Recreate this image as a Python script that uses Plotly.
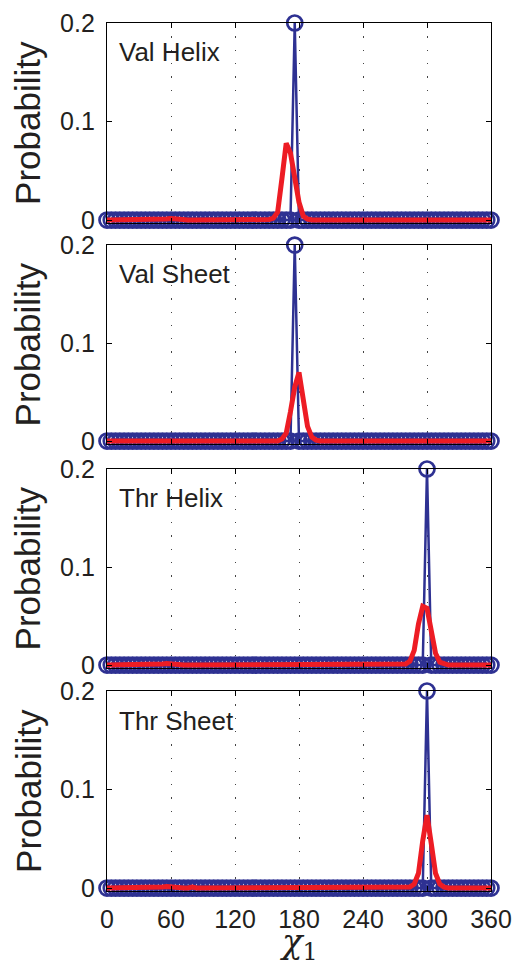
import plotly.graph_objects as go

# ---------------- data ----------------
chi_bins = list(range(0, 361, 4))          # chi_1 bin centres (deg)
x_ticks = [0, 60, 120, 180, 240, 300, 360]
y_ticks = [0, 0.1, 0.2]
y_tick_labels = ["0", "0.1", "0.2"]
panel_names = ["Val Helix", "Val Sheet", "Thr Helix", "Thr Sheet"]

# non-zero bins of each distribution; every other bin is 0
blue_val_helix = {176: 0.2}
blue_val_sheet = {176: 0.2}
blue_thr_helix = {300: 0.2}
blue_thr_sheet = {300: 0.2}

red_val_helix = {56: 0.001, 60: 0.0015, 64: 0.001, 152: 0.0005, 156: 0.002, 160: 0.008,
                 164: 0.042, 168: 0.078, 172: 0.068, 176: 0.045, 180: 0.018,
                 184: 0.004, 188: 0.001}
red_val_sheet = {164: 0.002, 168: 0.008, 172: 0.030, 176: 0.055, 180: 0.070,
                 184: 0.045, 188: 0.015, 192: 0.004, 196: 0.001}
red_thr_helix = {52: 0.001, 56: 0.0015, 60: 0.001, 280: 0.001, 284: 0.004, 288: 0.015,
                 292: 0.042, 296: 0.060, 300: 0.058, 304: 0.035, 308: 0.012,
                 312: 0.003, 316: 0.001}
red_thr_sheet = {52: 0.001, 56: 0.0015, 60: 0.001, 80: 0.001, 184: 0.001,
                 284: 0.001, 288: 0.004, 292: 0.015, 296: 0.048, 300: 0.074,
                 304: 0.045, 308: 0.015, 312: 0.004, 316: 0.001}

blue_series = [blue_val_helix, blue_val_sheet, blue_thr_helix, blue_thr_sheet]
red_series = [red_val_helix, red_val_sheet, red_thr_helix, red_thr_sheet]

# ---------------- styling ----------------
BLUE = "#2E3192"
RED = "#ED1C24"
TXT = "#231F20"
FONT = "Liberation Sans"

domains = [[0.7696, 1.0], [0.5150, 0.7442], [0.2569, 0.4862], [0.0, 0.2304]]

fig = go.Figure()
for i in range(4):
    ax = "" if i == 0 else str(i + 1)
    b = [blue_series[i].get(c, 0.0) for c in chi_bins]
    r = [red_series[i].get(c, 0.0) for c in chi_bins]
    fig.add_trace(go.Scatter(
        x=chi_bins, y=b, mode="lines+markers", xaxis="x" + ax, yaxis="y" + ax,
        line=dict(color=BLUE, width=2.5),
        marker=dict(symbol="circle-open", size=15, color=BLUE,
                    line=dict(width=2.7, color=BLUE)),
        cliponaxis=False, showlegend=False, hoverinfo="skip"))
    fig.add_trace(go.Scatter(
        x=chi_bins, y=r, mode="lines", xaxis="x" + ax, yaxis="y" + ax,
        line=dict(color=RED, width=5), cliponaxis=False,
        showlegend=False, hoverinfo="skip"))

layout = dict(
    width=517, height=965,
    margin=dict(l=107, r=26, t=23, b=74, autoexpand=False),
    paper_bgcolor="white", plot_bgcolor="white",
    font=dict(family=FONT, color=TXT),
)
annotations = []
for i in range(4):
    ax = "" if i == 0 else str(i + 1)
    layout["xaxis" + ax] = dict(
        domain=[0, 1], anchor="y" + ax, range=[0, 360], automargin=False,
        tickvals=x_ticks, ticktext=[str(t) for t in x_ticks],
        showticklabels=(i == 3), ticks="inside", ticklen=5, tickcolor="black",
        showline=True, linecolor="black", linewidth=1.3, mirror="ticks",
        showgrid=True, gridcolor="#444444", gridwidth=1, griddash="1.3px,12px",
        zeroline=False, tickfont=dict(size=25, family=FONT, color=TXT),
        ticklabelstandoff=6,
    )
    layout["yaxis" + ax] = dict(
        domain=domains[i], anchor="x" + ax, range=[-0.003, 0.2], automargin=False,
        tickvals=y_ticks, ticktext=y_tick_labels,
        ticks="inside", ticklen=5, tickcolor="black",
        showline=True, linecolor="black", linewidth=1.3, mirror="ticks",
        showgrid=False, zeroline=False,
        tickfont=dict(size=25, family=FONT, color=TXT),
        ticklabelstandoff=6,
    )
    annotations.append(dict(
        text=panel_names[i], xref="x" + ax + " domain", yref="y" + ax + " domain",
        x=0.026, y=0.8525, xanchor="left", yanchor="middle", showarrow=False,
        font=dict(size=26, family=FONT, color=TXT)))
    annotations.append(dict(
        text="Probability", xref="paper", yref="y" + ax + " domain",
        x=-0.206, y=0.5, xanchor="center", yanchor="middle", textangle=-90,
        showarrow=False, font=dict(size=35, family=FONT, color=TXT)))

annotations.append(dict(
    text="<i>χ</i><sub>1</sub>", xref="paper", yref="paper", x=0.5, y=-0.032,
    xanchor="center", yanchor="top", showarrow=False,
    font=dict(size=34, family="DejaVu Serif", color=TXT)))
layout["annotations"] = annotations
fig.update_layout(**layout)

fig.write_html("out.html", config={"displayModeBar": False},
               post_script="document.body.style.margin='0';document.body.style.padding='0';")
